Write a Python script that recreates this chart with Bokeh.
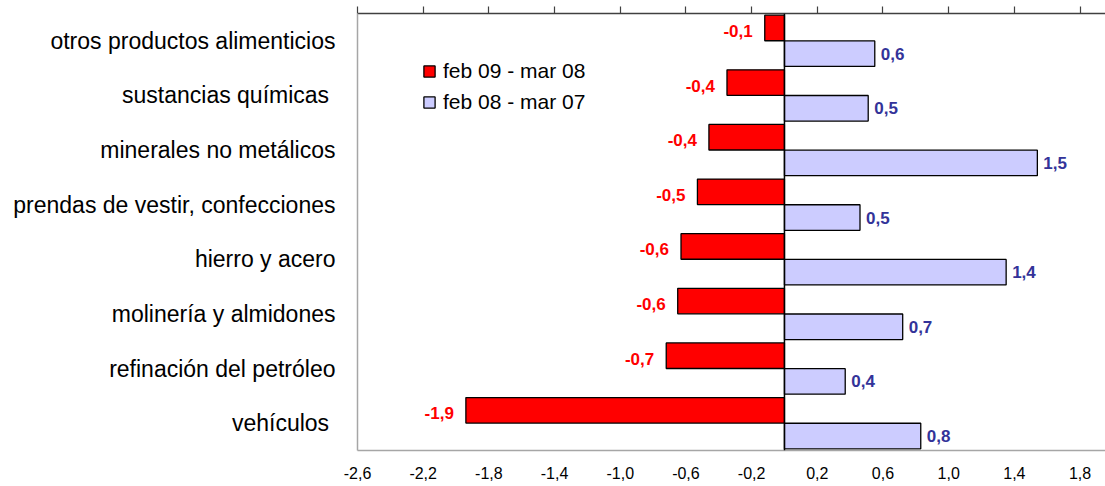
from bokeh.plotting import figure
from bokeh.models import (FactorRange, Range1d, FixedTicker, LinearAxis,
                          CustomJSTickFormatter, Span, ColumnDataSource)
from bokeh.transform import dodge
from bokeh.core.properties import value
from bokeh.embed import file_html
from bokeh.resources import INLINE

# ---- data ----
categories = ["otros productos alimenticios", "sustancias químicas ",
              "minerales no metálicos", "prendas de vestir, confecciones",
              "hierro y acero", "molinería y almidones",
              "refinación del petróleo", "vehículos "]
series1_name = "feb 09 - mar 08"
series2_name = "feb 08 - mar 07"
series1 = [-0.12, -0.35, -0.46, -0.53, -0.63, -0.65, -0.72, -1.94]
series2 = [0.55, 0.51, 1.54, 0.46, 1.35, 0.72, 0.37, 0.83]
labels1 = ["-0,1", "-0,4", "-0,4", "-0,5", "-0,6", "-0,6", "-0,7", "-1,9"]
labels2 = ["0,6", "0,5", "1,5", "0,5", "1,4", "0,7", "0,4", "0,8"]
x_ticks = [-2.6, -2.2, -1.8, -1.4, -1.0, -0.6, -0.2, 0.2, 0.6, 1.0, 1.4, 1.8]

FONT = "Liberation Sans"

src = ColumnDataSource(dict(cat=categories, s1=series1, s2=series2,
                            l1=labels1, l2=labels2))

p = figure(width=1105, height=486,
           y_range=FactorRange(*list(reversed(categories))),
           x_range=Range1d(-2.6, 1.955),
           output_backend="svg", toolbar_location=None,
           min_border_left=357, min_border_right=0, min_border_top=13,
           min_border_bottom=36)
p.outline_line_color = None
p.xgrid.grid_line_color = None
p.ygrid.grid_line_color = None
p.background_fill_color = "white"

# bottom axis: labels only
xa = p.xaxis[0]
xa.ticker = FixedTicker(ticks=x_ticks)
xa.formatter = CustomJSTickFormatter(code="return tick.toFixed(1).replace('.', ',');")
xa.major_tick_line_color = None
xa.minor_tick_line_color = None
xa.axis_line_color = "#A6A6A6"
xa.axis_line_width = 1.5
xa.major_label_text_font = FONT
xa.major_label_text_font_size = "16px"
xa.major_label_text_color = "black"
xa.major_label_standoff = 10

# top axis: line and ticks only
top = LinearAxis(ticker=FixedTicker(ticks=x_ticks),
                 formatter=CustomJSTickFormatter(code="return '';"),
                 major_tick_out=7, major_tick_in=0,
                 minor_tick_line_color=None,
                 axis_line_color="#404040", axis_line_width=1.5,
                 major_tick_line_color="#404040", major_tick_line_width=1.2,
                 major_label_standoff=0)
p.add_layout(top, "above")

# left axis: categories
ya = p.yaxis[0]
ya.major_tick_line_color = None
ya.minor_tick_line_color = None
ya.axis_line_color = "#A6A6A6"
ya.axis_line_width = 1.5
ya.major_label_text_font = FONT
ya.major_label_text_font_size = "23px"
ya.major_label_text_color = "black"
ya.major_label_standoff = 16

# bars
p.hbar(y=dodge("cat", 0.235, range=p.y_range), left=0, right="s1", height=0.467,
       fill_color="#FF0000", line_color="black", line_width=1.3,
       source=src, legend_label=series1_name)
p.hbar(y=dodge("cat", -0.235, range=p.y_range), left=0, right="s2", height=0.467,
       fill_color="#CCCCFF", line_color="black", line_width=1.3,
       source=src, legend_label=series2_name)

p.add_layout(Span(location=0, dimension="height", line_color="black", line_width=1.5))

# value labels
p.text(x="s1", y=dodge("cat", 0.235, range=p.y_range), text="l1", source=src,
       text_align="right", text_baseline="middle", x_offset=-12, y_offset=3,
       text_font=value(FONT), text_font_style="bold", text_font_size="17px",
       text_color="#FF0000")
p.text(x="s2", y=dodge("cat", -0.235, range=p.y_range), text="l2", source=src,
       text_align="left", text_baseline="middle", x_offset=6, y_offset=0,
       text_font=value(FONT), text_font_style="bold", text_font_size="17px",
       text_color="#333399")

# legend
lg = p.legend[0]
lg.location = (65, 336)
lg.margin = 0
lg.padding = 0
lg.spacing = 7
lg.glyph_width = 14
lg.glyph_height = 14
lg.label_height = 20
lg.label_standoff = 7
lg.label_text_font = FONT
lg.label_text_font_size = "21px"
lg.label_text_color = "black"
lg.border_line_color = None
lg.background_fill_alpha = 0

open("out.html", "w").write(file_html(p, INLINE))
